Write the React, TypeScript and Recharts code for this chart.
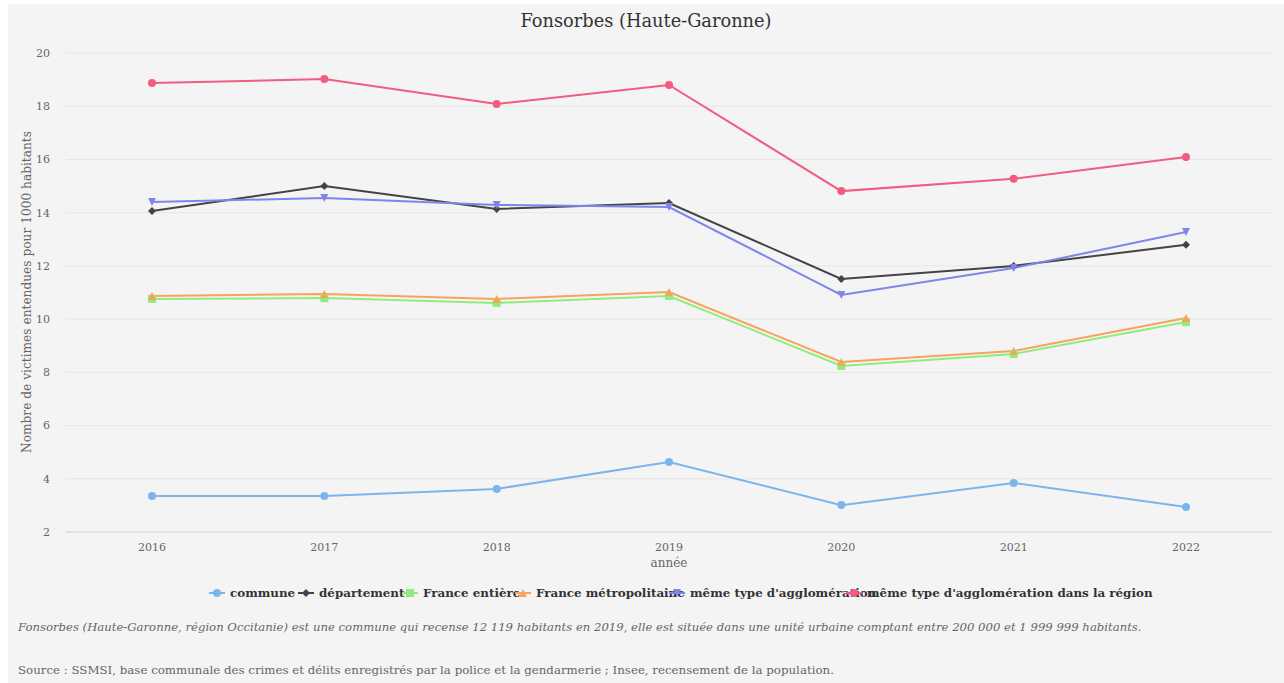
import React from "react";
import { LineChart, Line, XAxis, YAxis, CartesianGrid } from "recharts";

const years = ["2016", "2017", "2018", "2019", "2020", "2021", "2022"];

const commune = [3.35, 3.35, 3.62, 4.63, 3.01, 3.84, 2.94];
const departement = [14.06, 15.0, 14.14, 14.36, 11.51, 12.0, 12.79];
const franceEntiere = [10.76, 10.79, 10.61, 10.87, 8.24, 8.69, 9.89];
const franceMetro = [10.87, 10.94, 10.76, 11.02, 8.39, 8.8, 10.04];
const memeType = [14.4, 14.55, 14.29, 14.21, 10.91, 11.92, 13.27];
const memeTypeRegion = [18.87, 19.02, 18.08, 18.8, 14.81, 15.27, 16.09];

const yTicks = [2, 4, 6, 8, 10, 12, 14, 16, 18, 20];

const series = [
  { key: "commune", name: "commune", values: commune, color: "#7cb5ec", shape: "circle", legendX: 209 },
  { key: "departement", name: "département", values: departement, color: "#434348", shape: "diamond", legendX: 298 },
  { key: "franceEntiere", name: "France entière", values: franceEntiere, color: "#90ed7d", shape: "square", legendX: 402 },
  { key: "franceMetro", name: "France métropolitaine", values: franceMetro, color: "#f7a35c", shape: "triangle", legendX: 515 },
  { key: "memeType", name: "même type d'agglomération", values: memeType, color: "#8085e9", shape: "triangle-down", legendX: 669 },
  { key: "memeTypeRegion", name: "même type d'agglomération dans la région", values: memeTypeRegion, color: "#f15c80", shape: "circle", legendX: 846 },
];

const data = years.map((year, i) => {
  const row: any = { year };
  series.forEach((s) => {
    row[s.key] = s.values[i];
  });
  return row;
});

const FONT = "'DejaVu Serif', serif";

const Marker = ({ shape, cx, cy, color }: any) => {
  const r = 4;
  if (shape === "diamond") {
    return <path d={`M${cx},${cy - r} L${cx + r},${cy} L${cx},${cy + r} L${cx - r},${cy} Z`} fill={color} />;
  }
  if (shape === "square") {
    return <rect x={cx - r} y={cy - r} width={r * 2} height={r * 2} fill={color} />;
  }
  if (shape === "triangle") {
    return <path d={`M${cx},${cy - r} L${cx + r},${cy + r} L${cx - r},${cy + r} Z`} fill={color} />;
  }
  if (shape === "triangle-down") {
    return <path d={`M${cx - r},${cy - r} L${cx + r},${cy - r} L${cx},${cy + r} Z`} fill={color} />;
  }
  return <circle cx={cx} cy={cy} r={r} fill={color} />;
};

const makeDot = (shape: string, color: string) => (props: any) => {
  const { cx, cy, index } = props;
  return (
    <g key={`${shape}-${color}-${index}`}>
      <Marker shape={shape} cx={cx} cy={cy} color={color} />
    </g>
  );
};

const YLabel = () => (
  <text
    x={19}
    y={288}
    transform="rotate(-90 19 288)"
    textAnchor="middle"
    dominantBaseline="central"
    fill="#666666"
    fontSize={12.2}
    fontFamily={FONT}
  >
    Nombre de victimes entendues pour 1000 habitants
  </text>
);

const App = () => {
  return (
    <div
      style={{
        position: "absolute",
        left: 8,
        top: 4,
        width: 1276,
        height: 679,
        background: "#f4f4f4",
        fontFamily: FONT,
        overflow: "hidden",
      }}
    >
      <style>{"body{margin:0;overflow:hidden}"}</style>
      <div
        style={{
          position: "absolute",
          left: 0,
          width: 1276,
          top: 6,
          textAlign: "center",
          fontSize: 17.8,
          color: "#333333",
        }}
      >
        Fonsorbes (Haute-Garonne)
      </div>
      <LineChart
        width={1276}
        height={575}
        data={data}
        margin={{ top: 49, right: 12, bottom: 0, left: 0 }}
        style={{ position: "absolute", left: 0, top: 0 }}
      >
        <CartesianGrid vertical={false} stroke="#e6e6e6" />
        <XAxis
          dataKey="year"
          padding={{ left: 86, right: 86 }}
          tickLine={false}
          tickSize={0}
          tickMargin={11}
          axisLine={{ stroke: "#ccd6eb" }}
          tick={{ fill: "#666666", fontSize: 11, fontFamily: FONT }}
          height={47}
          label={{ value: "année", position: "insideBottom", offset: 12, fill: "#666666", fontSize: 12, fontFamily: FONT }}
        />
        <YAxis
          domain={[2, 20]}
          ticks={yTicks}
          width={58}
          axisLine={false}
          tickLine={false}
          tickSize={0}
          tickMargin={16}
          tick={{ fill: "#666666", fontSize: 11, fontFamily: FONT }}
          label={<YLabel />}
        />
        {series.map((s) => (
          <Line
            key={s.key}
            dataKey={s.key}
            name={s.name}
            stroke={s.color}
            strokeWidth={2}
            dot={makeDot(s.shape, s.color)}
            activeDot={false}
            isAnimationActive={false}
          />
        ))}
      </LineChart>
      <div style={{ position: "absolute", left: 0, top: 582, width: 1276, height: 20 }}>
        {series.map((s) => (
          <div
            key={s.key}
            style={{
              position: "absolute",
              left: s.legendX - 8,
              top: 0,
              display: "flex",
              alignItems: "center",
              whiteSpace: "nowrap",
              fontSize: 11.9,
              fontWeight: "bold",
              color: "#333333",
            }}
          >
            <svg width={16} height={12} style={{ marginRight: 5 }}>
              <line x1={0} y1={6} x2={16} y2={6} stroke={s.color} strokeWidth={2} />
              <Marker shape={s.shape} cx={8} cy={6} color={s.color} />
            </svg>
            {s.name}
          </div>
        ))}
      </div>
      <div
        style={{
          position: "absolute",
          left: 10,
          top: 616,
          fontSize: 11.67,
          fontStyle: "italic",
          color: "#666666",
          whiteSpace: "nowrap",
        }}
      >
        Fonsorbes (Haute-Garonne, région Occitanie) est une commune qui recense 12 119 habitants en 2019, elle est située dans une unité urbaine comptant entre 200 000 et 1 999 999 habitants.
      </div>
      <div
        style={{
          position: "absolute",
          left: 10,
          top: 659,
          fontSize: 11.8,
          color: "#666666",
          whiteSpace: "nowrap",
        }}
      >
        Source : SSMSI, base communale des crimes et délits enregistrés par la police et la gendarmerie ; Insee, recensement de la population.
      </div>
    </div>
  );
};

export default App;
